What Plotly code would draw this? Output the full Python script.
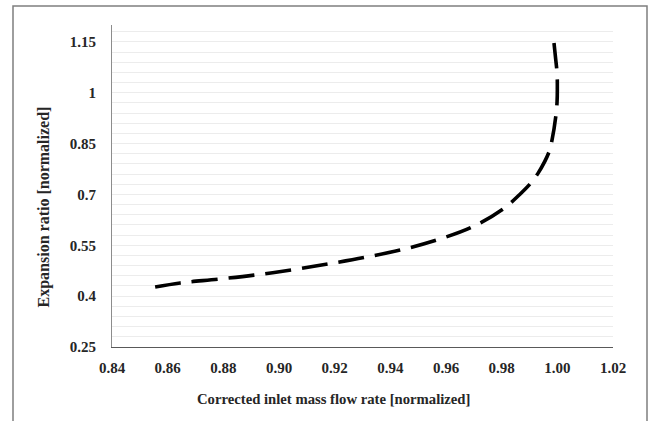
import plotly.graph_objects as go

mass_flow = [0.8555, 0.8645, 0.878, 0.891, 0.905, 0.9176, 0.9305, 0.9435, 0.9568,
             0.9694, 0.9805, 0.9865, 0.9902, 0.9931, 0.9970, 0.9981, 0.9995,
             0.9999, 1.0000, 0.9999, 0.9994, 0.9988]
expansion = [0.427, 0.439, 0.450, 0.462, 0.478, 0.495, 0.514, 0.536, 0.566,
             0.604, 0.657, 0.700, 0.731, 0.763, 0.825, 0.861, 0.934,
             0.973, 1.010, 1.058, 1.100, 1.147]

y_ticks = [0.25, 0.4, 0.55, 0.7, 0.85, 1.0, 1.15]
y_labels = ["0.25", "0.4", "0.55", "0.7", "0.85", "1", "1.15"]
x_title = "Corrected inlet mass flow rate [normalized]"
y_title = "Expansion ratio [normalized]"

FONT = "Liberation Serif"
TXT = "#262626"

fig = go.Figure()
fig.add_trace(go.Scatter(
    x=mass_flow, y=expansion, mode="lines",
    line=dict(color="black", width=3.6, dash="26px,11px", shape="spline"),
    showlegend=False, hoverinfo="skip",
))

fig.update_layout(
    width=663, height=421,
    margin=dict(l=112, r=50, t=25, b=74),
    paper_bgcolor="white", plot_bgcolor="white",
    font=dict(family=FONT, size=15, color=TXT),
    xaxis=dict(
        range=[0.84, 1.02], dtick=0.02, tick0=0.84, tickformat=".2f",
        showgrid=False, zeroline=False,
        showline=True, linecolor="#595959", linewidth=1.2,
        ticks="", ticklabelstandoff=7,
        tickfont=dict(family=FONT, size=15, color=TXT, weight="bold"),
    ),
    yaxis=dict(
        range=[0.25, 1.2], tickvals=y_ticks, ticktext=y_labels,
        showgrid=True, gridcolor="#ececec", gridwidth=1,
        minor=dict(dtick=0.03, tick0=0.25, showgrid=True, gridcolor="#ececec", gridwidth=1),
        zeroline=False,
        showline=True, linecolor="#8c8c8c", linewidth=1.2,
        ticks="", ticklabelstandoff=12,
        tickfont=dict(family=FONT, size=15, color=TXT, weight="bold"),
    ),
    shapes=[dict(
        type="rect", xref="paper", yref="paper",
        x0=(13 - 112) / 501, x1=(647 - 112) / 501,
        y0=-0.3, y1=(347 - 6) / 322,
        line=dict(color="#7f7f7f", width=1.5), fillcolor="rgba(0,0,0,0)",
        layer="below",
    )],
    annotations=[
        dict(text=x_title, xref="paper", yref="paper",
             x=(333.5 - 112) / 501, y=(347 - 399) / 322,
             xanchor="center", yanchor="middle", showarrow=False,
             font=dict(family=FONT, size=14.7, color=TXT, weight="bold")),
        dict(text=y_title, xref="paper", yref="paper",
             x=(43 - 112) / 501, y=(347 - 207.5) / 322, textangle=-90,
             xanchor="center", yanchor="middle", showarrow=False,
             font=dict(family=FONT, size=16, color=TXT, weight="bold")),
    ],
)

fig.write_html("out.html")
